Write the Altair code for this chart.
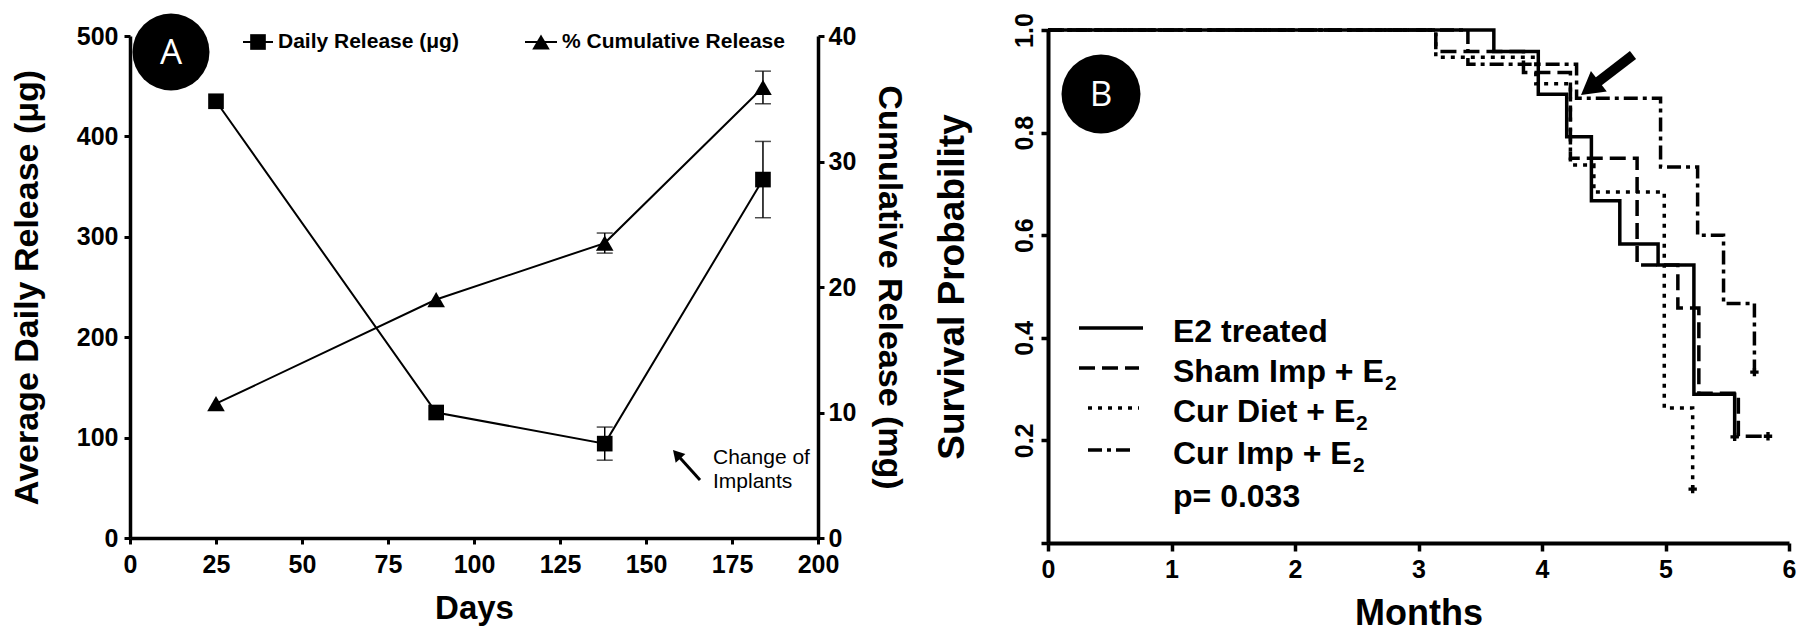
import math
import altair as alt
import pandas as pd

FONT = "Liberation Sans"

# ---------------- Panel A: estradiol release from implants ----------------
days = [25, 89, 138, 184]
daily_release = [435, 125, 94, 357]          # µg / day
daily_err = [0, 0, 16.5, 38]
cum_release = [10.7, 19.0, 23.5, 35.9]       # mg
cum_err = [0, 0, 0.8, 1.3]

# ---------------- Panel B: Kaplan-Meier survival ----------------
groups = ["E2 treated", "Sham Imp + E", "Cur Diet + E", "Cur Imp + E"]
subscripts = ["", "2", "2", "2"]
e2_t = [0, 3.61, 3.97, 4.20, 4.40, 4.63, 4.94, 5.23, 5.56]
e2_s = [1.0, 0.958, 0.875, 0.792, 0.667, 0.583, 0.542, 0.290, 0.207]
sham_t = [0, 3.14, 3.85, 4.23, 4.77, 5.10, 5.27, 5.59, 5.83]
sham_s = [1.0, 0.958, 0.917, 0.750, 0.542, 0.458, 0.292, 0.208, 0.208]
diet_t = [0, 3.14, 3.95, 4.23, 4.42, 4.99, 5.22]
diet_s = [1.0, 0.947, 0.895, 0.737, 0.684, 0.263, 0.105]
imp_t = [0, 3.40, 4.28, 4.96, 5.26, 5.47, 5.72]
imp_s = [1.0, 0.933, 0.867, 0.733, 0.600, 0.467, 0.333]
p_value = "p= 0.033"

dash_styles = [[1, 0], [16, 7], [4, 6], [14, 5, 4, 5]]

# Panel A plot box is 508 px tall; its axes occupy the lower 502 px
A_TOP = 6
A_W, A_H = 688, 508
B_W, B_H = 741, 513


def ax(**kw):
    base = dict(domainColor="black", domainWidth=3.5, tickColor="black", tickWidth=3,
                tickSize=6, labelFont=FONT, labelFontWeight="bold", labelFontSize=25,
                labelColor="black", titleFont=FONT, titleFontWeight="bold",
                titleColor="black", grid=False, labelFlush=False, labelOverlap=False)
    base.update(kw)
    return alt.Axis(**base)


one = pd.DataFrame({"k": [0]})


def txt(x, y, s, size, weight="bold", color="black", align="left", font=FONT):
    return alt.Chart(one).mark_text(
        text=s, font=font, fontSize=size, fontWeight=weight, color=color,
        align=align, baseline="middle").encode(x=alt.value(x), y=alt.value(y))


def seg(x1, y1, x2, y2, width, dash=None):
    kw = dict(color="black", strokeWidth=width, strokeCap="butt")
    if dash is not None:
        kw["strokeDash"] = dash
    return alt.Chart(one).mark_rule(**kw).encode(
        x=alt.value(x1), y=alt.value(y1), x2=alt.value(x2), y2=alt.value(y2))


def anchor(x, y):
    # invisible point that fixes an edge of the panel's layout box
    return alt.Chart(one).mark_point(opacity=0, size=1, filled=True).encode(
        x=alt.value(x), y=alt.value(y))


def arrow(tail, tip, shaft, head):
    dx, dy = tip[0] - tail[0], tip[1] - tail[1]
    n = math.hypot(dx, dy)
    ux, uy = dx / n, dy / n
    h = 0.866 * (head / 2)
    cx, cy = tip[0] - h * ux, tip[1] - h * uy
    ang = math.degrees(math.atan2(ux, -uy)) % 360
    line = seg(tail[0], tail[1], cx, cy, shaft)
    tri = alt.Chart(one).mark_point(shape="triangle-up", filled=True, opacity=1,
                                    color="black", size=head * head, angle=ang).encode(
        x=alt.value(cx), y=alt.value(cy))
    return line + tri


def badge(x, y, letter, diam):
    dot = alt.Chart(one).mark_point(shape="circle", filled=True, opacity=1,
                                    color="black", size=diam * diam).encode(
        x=alt.value(x), y=alt.value(y))
    return dot + txt(x, y + 1, letter, 35, weight="normal", color="white",
                     align="center", font="Open Sans")


# ---- Panel A charts ----
dfA = pd.DataFrame({
    "day": days,
    "daily": daily_release,
    "daily_lo": [v - e for v, e in zip(daily_release, daily_err)],
    "daily_hi": [v + e for v, e in zip(daily_release, daily_err)],
    "cum": cum_release,
    "cum_lo": [v - e for v, e in zip(cum_release, cum_err)],
    "cum_hi": [v + e for v, e in zip(cum_release, cum_err)],
    "has_d": [e > 0 for e in daily_err],
    "has_c": [e > 0 for e in cum_err],
})

xA = alt.X("day:Q", scale=alt.Scale(domain=[0, 200], nice=False),
           axis=ax(values=list(range(0, 201, 25)), title="Days", titleFontSize=33,
                   labelPadding=8, titlePadding=15))
scL = alt.Scale(domain=[0, 500], nice=False, range=[A_H, A_TOP])
axL = ax(values=[0, 100, 200, 300, 400, 500], title="Average Daily Release (\u03bcg)",
         titleFontSize=34, labelPadding=6, titlePadding=32)
scR = alt.Scale(domain=[0, 40], nice=False, range=[A_H, A_TOP])
axR = ax(values=[0, 10, 20, 30, 40], title="Cumulative Release (mg)", orient="right",
         titleFontSize=34, labelPadding=4, titlePadding=16)

baseA = alt.Chart(dfA)
daily_line = baseA.mark_line(color="black", strokeWidth=2).encode(
    x=xA, y=alt.Y("daily:Q", scale=scL, axis=axL))
daily_pts = baseA.mark_point(shape="square", filled=True, opacity=1, color="black",
                             size=245).encode(x=xA, y=alt.Y("daily:Q", scale=scL, axis=axL))
daily_bar = baseA.transform_filter("datum.has_d").mark_rule(color="black", strokeWidth=1.5).encode(
    x=xA, y=alt.Y("daily_lo:Q", scale=scL, axis=axL), y2="daily_hi:Q")
daily_cap_lo = baseA.transform_filter("datum.has_d").mark_tick(
    orient="horizontal", size=16, thickness=1.5, color="black").encode(
    x=xA, y=alt.Y("daily_lo:Q", scale=scL, axis=axL))
daily_cap_hi = baseA.transform_filter("datum.has_d").mark_tick(
    orient="horizontal", size=16, thickness=1.5, color="black").encode(
    x=xA, y=alt.Y("daily_hi:Q", scale=scL, axis=axL))

cum_line = baseA.mark_line(color="black", strokeWidth=2).encode(
    x=xA, y=alt.Y("cum:Q", scale=scR, axis=axR))
cum_pts = baseA.mark_point(shape="triangle-up", filled=True, opacity=1, color="black",
                           size=310).encode(x=xA, y=alt.Y("cum:Q", scale=scR, axis=axR))
cum_bar = baseA.transform_filter("datum.has_c").mark_rule(color="black", strokeWidth=1.5).encode(
    x=xA, y=alt.Y("cum_lo:Q", scale=scR, axis=axR), y2="cum_hi:Q")
cum_cap_lo = baseA.transform_filter("datum.has_c").mark_tick(
    orient="horizontal", size=16, thickness=1.5, color="black").encode(
    x=xA, y=alt.Y("cum_lo:Q", scale=scR, axis=axR))
cum_cap_hi = baseA.transform_filter("datum.has_c").mark_tick(
    orient="horizontal", size=16, thickness=1.5, color="black").encode(
    x=xA, y=alt.Y("cum_hi:Q", scale=scR, axis=axR))

# in-plot legend and notes for panel A (y measured from the 500 tick)
o = A_TOP
legA = (
    seg(113, o + 6, 143, o + 6, 2)
    + alt.Chart(one).mark_point(shape="square", filled=True, opacity=1, color="black",
                                size=245).encode(x=alt.value(128), y=alt.value(o + 6))
    + txt(148, o + 6, "Daily Release (\u03bcg)", 21)
    + seg(395, o + 6, 427, o + 6, 2)
    + alt.Chart(one).mark_point(shape="triangle-up", filled=True, opacity=1, color="black",
                                size=310).encode(x=alt.value(411), y=alt.value(o + 6))
    + txt(432, o + 6, "% Cumulative Release", 21)
    + txt(583, o + 422, "Change of", 21, weight="normal")
    + txt(583, o + 446, "Implants", 21, weight="normal")
    + arrow((570, o + 444), (543, o + 414), 3, 13)
    + badge(41, o + 16, "A", 77)
    + anchor(-129.5, 200)
    + anchor(A_W + 88, 200)
)

left = alt.layer(daily_line, daily_bar, daily_cap_lo, daily_cap_hi, daily_pts, legA)
right = alt.layer(cum_line, cum_bar, cum_cap_lo, cum_cap_hi, cum_pts)
panelA = alt.layer(left, right).resolve_scale(y="independent").properties(width=A_W, height=A_H)

# ---- Panel B charts ----
curve_t = [e2_t, sham_t, diet_t, imp_t]
curve_s = [e2_s, sham_s, diet_s, imp_s]
rows = []
for g, ts, ss in zip(groups, curve_t, curve_s):
    for t, s in zip(ts, ss):
        rows.append({"group": g, "t": t, "s": s})
dfB = pd.DataFrame(rows)
censor = pd.DataFrame([{"group": g, "t": ts[-1], "s": ss[-1]}
                       for g, ts, ss in zip(groups, curve_t, curve_s)])

bax = dict(domainWidth=4, tickWidth=3.5)
xB = alt.X("t:Q", scale=alt.Scale(domain=[0, 6], nice=False),
           axis=ax(values=[0, 1, 2, 3, 4, 5, 6], title="Months", titleFontSize=36,
                   tickSize=8, labelPadding=6, titlePadding=14, **bax))
yB = alt.Y("s:Q", scale=alt.Scale(domain=[0, 1], nice=False),
           axis=ax(values=[0, 0.2, 0.4, 0.6, 0.8, 1.0], title="Survival Probability",
                   labelExpr="datum.value == 0 ? '' : format(datum.value, '.1f')",
                   labelAngle=270, labelAlign="center", labelBaseline="alphabetic",
                   tickSize=7, labelPadding=9, titleFontSize=37, titlePadding=41, **bax))

curves = alt.Chart(dfB).mark_line(interpolate="step-after", color="black", strokeWidth=3.5,
                                  strokeCap="butt").encode(
    x=xB, y=yB,
    strokeDash=alt.StrokeDash("group:N", scale=alt.Scale(domain=groups, range=dash_styles),
                              legend=None))
marks = alt.Chart(censor).mark_point(shape="cross", filled=True, opacity=1, color="black",
                                     size=70).encode(x=xB, y=yB)

# legend rows: sample line start/end and row centre (pixels inside the plot)
leg_rows = [(31, 95, 298), (31, 91, 338), (40, 91, 378), (40, 85, 420)]
sub_dx = [0, 212, 183, 180]
legB = None
for g, sub, dx, d, (x1, x2, y) in zip(groups, subscripts, sub_dx, dash_styles, leg_rows):
    layer = seg(x1, y, x2, y, 3.5, dash=d) + txt(125, y + 4, g, 32)
    if sub:
        layer = layer + txt(125 + dx, y + 16, sub, 21)
    legB = layer if legB is None else legB + layer
legB = legB + txt(125, 467, p_value, 32)

panelB = alt.layer(curves, marks, legB,
                   arrow((585, 25), (533, 65), 10, 26),
                   badge(53, 64, "B", 79),
                   anchor(-140.5, -24)).properties(width=B_W, height=B_H)

chart = alt.hconcat(panelA, panelB, spacing=0).configure(
    padding={"left": 0, "top": 5, "right": 5, "bottom": 0},
    background="white",
).configure_view(stroke=None)

chart.save("out.html", embed_options={"renderer": "svg", "actions": False})
